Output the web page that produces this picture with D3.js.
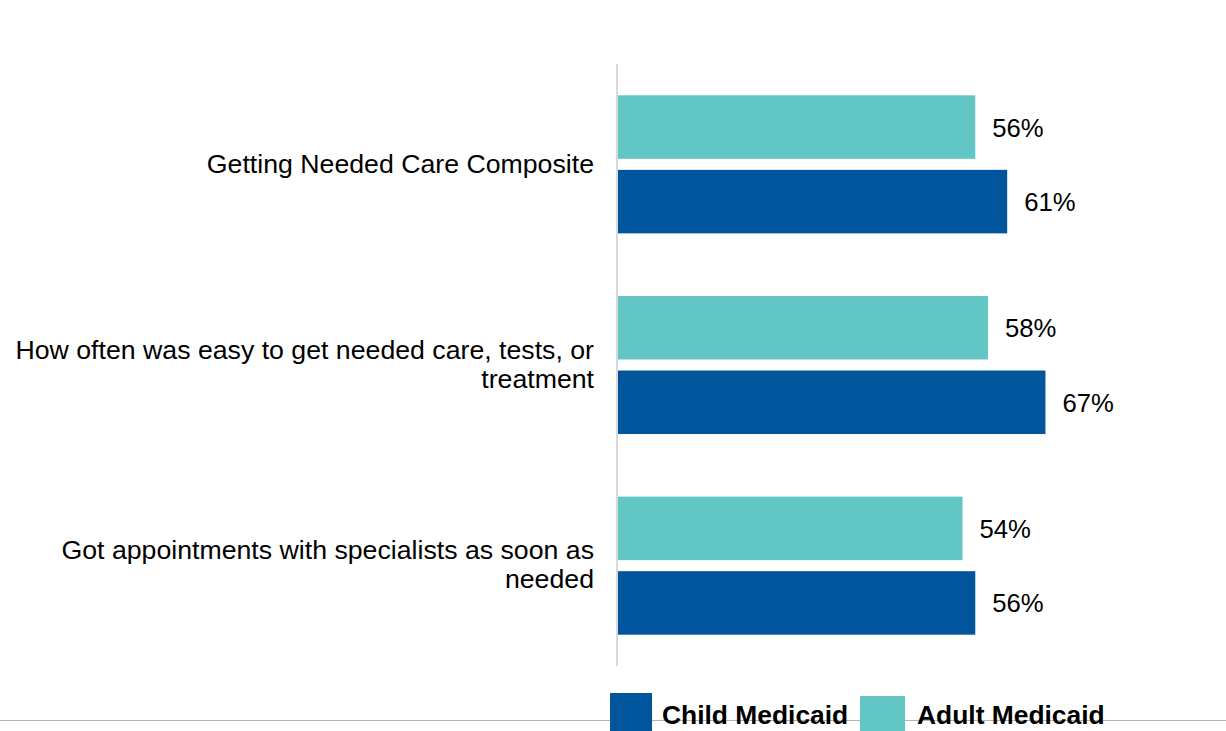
<!DOCTYPE html>
<html>
<head>
<meta charset="utf-8">
<script src="https://cdn.jsdelivr.net/npm/d3@7"></script>
<style>
  html, body { margin: 0; padding: 0; background: #fff; }
  svg { display: block; }
  text { font-family: "Liberation Sans", Arial, sans-serif; fill: #000; }
</style>
</head>
<body>
<svg id="chart" width="1226" height="731"></svg>
<script>
const categories = [
  "Getting Needed Care Composite",
  "How often was easy to get needed care, tests, or treatment",
  "Got appointments with specialists as soon as needed"
];
const seriesNames = ["Adult Medicaid", "Child Medicaid"];
const adultValues = [56, 58, 54];
const childValues = [61, 67, 56];
const legendOrder = ["Child Medicaid", "Adult Medicaid"];
const colors = { "Child Medicaid": "#01559D", "Adult Medicaid": "#62C6C4" };

const svg = d3.select("#chart");
const W = 1226, H = 731;

const x = d3.scaleLinear().domain([0, 100]).range([618, 618 + 638]);
const y = d3.scaleBand().domain(categories).range([64, 666]).paddingInner(0.312).paddingOuter(0.156);
const ySub = d3.scaleBand().domain(seriesNames).range([0, y.bandwidth()]).paddingInner(0.148);

const data = categories.map((c, i) => ({
  cat: c,
  values: [
    { s: "Adult Medicaid", v: adultValues[i] },
    { s: "Child Medicaid", v: childValues[i] }
  ]
}));

// bottom gray line
svg.append("line").attr("x1", 0).attr("x2", W).attr("y1", 720.5).attr("y2", 720.5)
  .attr("stroke", "#b3b3b3").attr("stroke-width", 1);

// bars
const g = svg.selectAll("g.cat").data(data).join("g")
  .attr("class", "cat").attr("transform", d => `translate(0,${y(d.cat)})`);

g.selectAll("rect").data(d => d.values).join("rect")
  .attr("x", x(0))
  .attr("y", d => ySub(d.s))
  .attr("width", d => x(d.v) - x(0))
  .attr("height", ySub.bandwidth())
  .attr("fill", d => colors[d.s]);

g.selectAll("text.val").data(d => d.values).join("text")
  .attr("class", "val")
  .attr("x", d => x(d.v) + 17)
  .attr("y", d => ySub(d.s) + ySub.bandwidth() / 2)
  .attr("dy", "0.37em")
  .attr("font-size", 25.7)
  .text(d => d.v + "%");

// axis line
svg.append("line").attr("x1", 617).attr("x2", 617).attr("y1", 64).attr("y2", 666)
  .attr("stroke", "#d9d9d9").attr("stroke-width", 2);

// category labels with wrapping
const labelX = 594, maxW = 595, lineH = 29, fs = 26.7;
categories.forEach(c => {
  const t = svg.append("text").attr("text-anchor", "end").attr("font-size", fs);
  const words = c.split(" ");
  const lines = [];
  let cur = [];
  const probe = svg.append("text").attr("font-size", fs);
  words.forEach(w => {
    const test = cur.concat([w]).join(" ");
    probe.text(test);
    if (probe.node().getComputedTextLength() > maxW && cur.length) {
      lines.push(cur.join(" "));
      cur = [w];
    } else cur.push(w);
  });
  lines.push(cur.join(" "));
  probe.remove();
  const cy = y(c) + y.bandwidth() / 2;
  lines.forEach((ln, i) => {
    t.append("tspan").attr("x", labelX)
      .attr("y", cy + (i - (lines.length - 1) / 2) * lineH)
      .attr("dy", "0.31em")
      .text(ln);
  });
});

// legend
const legendPos = { "Child Medicaid": { rx: 610, ry: 693, rw: 42, tx: 662 },
                    "Adult Medicaid": { rx: 860, ry: 696, rw: 45, tx: 917 } };
legendOrder.forEach(s => {
  const p = legendPos[s];
  svg.append("rect").attr("x", p.rx).attr("y", p.ry).attr("width", p.rw).attr("height", 44)
    .attr("fill", colors[s]);
  svg.append("text").attr("x", p.tx).attr("y", 724).attr("font-size", 26.4)
    .attr("font-weight", "bold").text(s);
});
</script>
</body>
</html>
